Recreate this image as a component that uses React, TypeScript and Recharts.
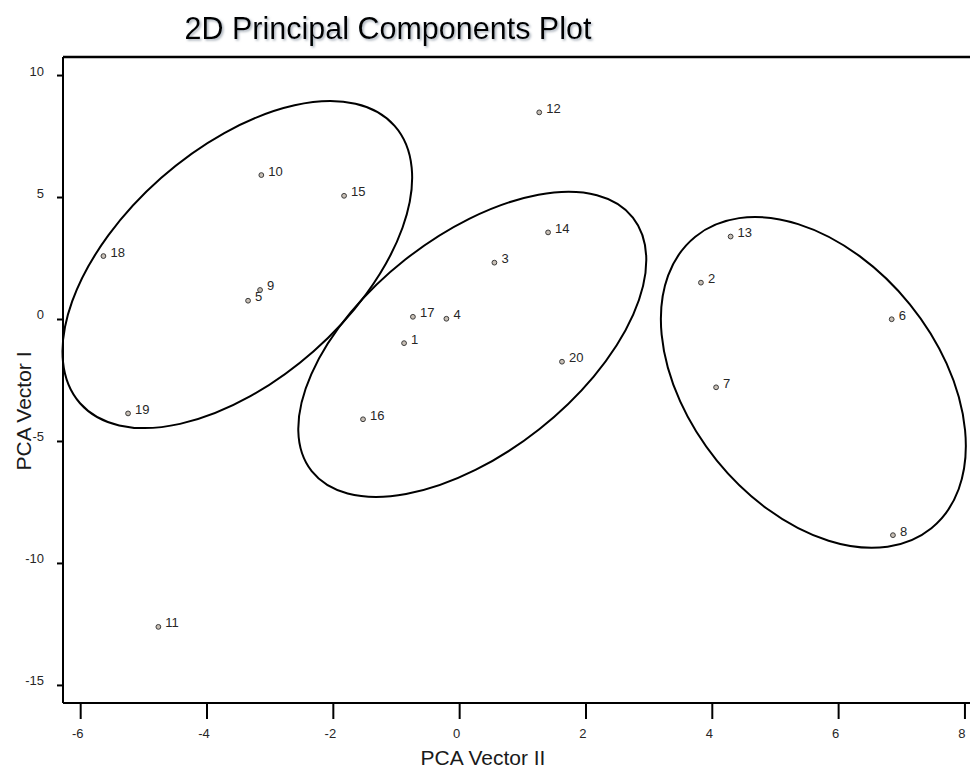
import React from 'react';
import {
    ScatterChart,
    Scatter,
    XAxis,
    YAxis,
    ReferenceArea,
    ReferenceLine,
} from 'recharts';

/* ─── Observations (PCA scores) ─────────────────────────────────────────────── */
const sampleIds = [1, 2, 3, 4, 5, 6, 7, 8, 9, 10, 11, 12, 13, 14, 15, 16, 17, 18, 19, 20];
const vectorII = [-0.88, 3.82, 0.55, -0.21, -3.35, 6.84, 4.06, 6.86, -3.16, -3.14, -4.77, 1.26, 4.29, 1.40, -1.83, -1.53, -0.74, -5.64, -5.25, 1.62];
const vectorI = [-0.97, 1.51, 2.33, 0.03, 0.77, 0.01, -2.78, -8.84, 1.21, 5.92, -12.60, 8.49, 3.40, 3.57, 5.07, -4.09, 0.11, 2.60, -3.85, -1.73];

/* ─── Cluster outlines: centre, unrotated half-extents (data units), tilt ─────── */
const clusterCx = [-3.52, 0.2, 5.6];
const clusterCy = [2.25, -1.02, -2.58];
const clusterHalfX = [3.32, 3.24, 2.97];
const clusterHalfY = [4.73, 4.43, 5.09];
const clusterTilt = [-41.4, -38.3, 51];

const xTicks = [-6, -4, -2, 0, 2, 4, 6, 8];
const yTicks = [-15, -10, -5, 0, 5, 10];
const X_DOMAIN: [number, number] = [-6.28, 8.08];
const Y_DOMAIN: [number, number] = [-15.72, 10.76];

const points = sampleIds.map((id, i) => ({ id, x: vectorII[i], y: vectorI[i] }));
const clusters = clusterCx.map((cx, i) => ({
    x1: cx - clusterHalfX[i],
    x2: cx + clusterHalfX[i],
    y1: clusterCy[i] - clusterHalfY[i],
    y2: clusterCy[i] + clusterHalfY[i],
    tilt: clusterTilt[i],
}));

const FONT = "'Liberation Sans', Arial, sans-serif";
const TEXT = '#262626';

const PointMarker = (props: any) => {
    const { cx, cy, payload } = props;
    if (cx == null || cy == null) return null;
    return (
        <g>
            <circle cx={cx} cy={cy} r={2.4} fill="#c8bfb5" stroke="#3a3a3a" strokeWidth={1} />
            <text x={cx + 7} y={cy + 0.5} fontSize={13} fontFamily={FONT} fill={TEXT}>
                {payload?.id}
            </text>
        </g>
    );
};

const XTick = (props: any) => {
    const { x, y, payload } = props;
    return (
        <text x={x - 3} y={y + 17} textAnchor="middle" fontSize={13} fontFamily={FONT} fill={TEXT}>
            {payload.value}
        </text>
    );
};

const YTick = (props: any) => {
    const { x, y, payload } = props;
    return (
        <text x={x - 11} y={y} textAnchor="end" fontSize={13} fontFamily={FONT} fill={TEXT}>
            {payload.value}
        </text>
    );
};

const ellipseShape = (tilt: number) => (props: any) => {
    const { x, y, width, height } = props;
    const cx = x + width / 2;
    const cy = y + height / 2;
    return (
        <ellipse
            cx={cx}
            cy={cy}
            rx={Math.abs(width) / 2}
            ry={Math.abs(height) / 2}
            transform={`rotate(${tilt} ${cx} ${cy})`}
            fill="none"
            stroke="#000"
            strokeWidth={2}
        />
    );
};

export default function App() {
    return (
        <div style={{ position: 'absolute', left: 0, top: 0, width: 970, height: 769, background: '#fff' }}>
            <ScatterChart width={970} height={769} margin={{ top: 57, right: 0, bottom: 26, left: 8 }}>
                <XAxis
                    type="number"
                    dataKey="x"
                    domain={X_DOMAIN}
                    ticks={xTicks}
                    interval={0}
                    height={40}
                    tickSize={16}
                    tickMargin={2}
                    axisLine={{ stroke: '#000', strokeWidth: 2 }}
                    tickLine={{ stroke: '#000', strokeWidth: 2 }}
                    tick={<XTick />}
                />
                <YAxis
                    type="number"
                    dataKey="y"
                    domain={Y_DOMAIN}
                    ticks={yTicks}
                    interval={0}
                    width={55}
                    tickSize={6}
                    tickMargin={2}
                    axisLine={{ stroke: '#000', strokeWidth: 2 }}
                    tickLine={{ stroke: '#000', strokeWidth: 2 }}
                    tick={<YTick />}
                />
                {/* top frame line */}
                <ReferenceLine y={Y_DOMAIN[1]} stroke="#000" strokeWidth={2.5} ifOverflow="visible" />
                {clusters.map((c, i) => (
                    <ReferenceArea
                        key={`cluster-${i}`}
                        x1={c.x1}
                        x2={c.x2}
                        y1={c.y1}
                        y2={c.y2}
                        ifOverflow="visible"
                        shape={ellipseShape(c.tilt)}
                    />
                ))}
                <Scatter data={points} shape={<PointMarker />} isAnimationActive={false} />
            </ScatterChart>
            <svg
                width={970}
                height={769}
                style={{ position: 'absolute', left: 0, top: 0, pointerEvents: 'none' }}
            >
                <defs>
                    <filter id="titleShadow" x="-5%" y="-30%" width="110%" height="160%">
                        <feDropShadow dx={1.5} dy={1.5} stdDeviation={0.8} floodColor="#7f8a99" floodOpacity={0.7} />
                    </filter>
                </defs>
                <text
                    x={388}
                    y={39}
                    textAnchor="middle"
                    fontSize={30.5}
                    fontFamily={FONT}
                    fill="#000"
                    filter="url(#titleShadow)"
                >
                    2D Principal Components Plot
                </text>
                <text x={483} y={765} textAnchor="middle" fontSize={21} fontFamily={FONT} fill="#1a1a1a">
                    PCA Vector II
                </text>
                <text
                    x={31}
                    y={411}
                    textAnchor="middle"
                    fontSize={21}
                    fontFamily={FONT}
                    fill="#1a1a1a"
                    transform="rotate(-90 31 411)"
                >
                    PCA Vector I
                </text>
            </svg>
        </div>
    );
}
